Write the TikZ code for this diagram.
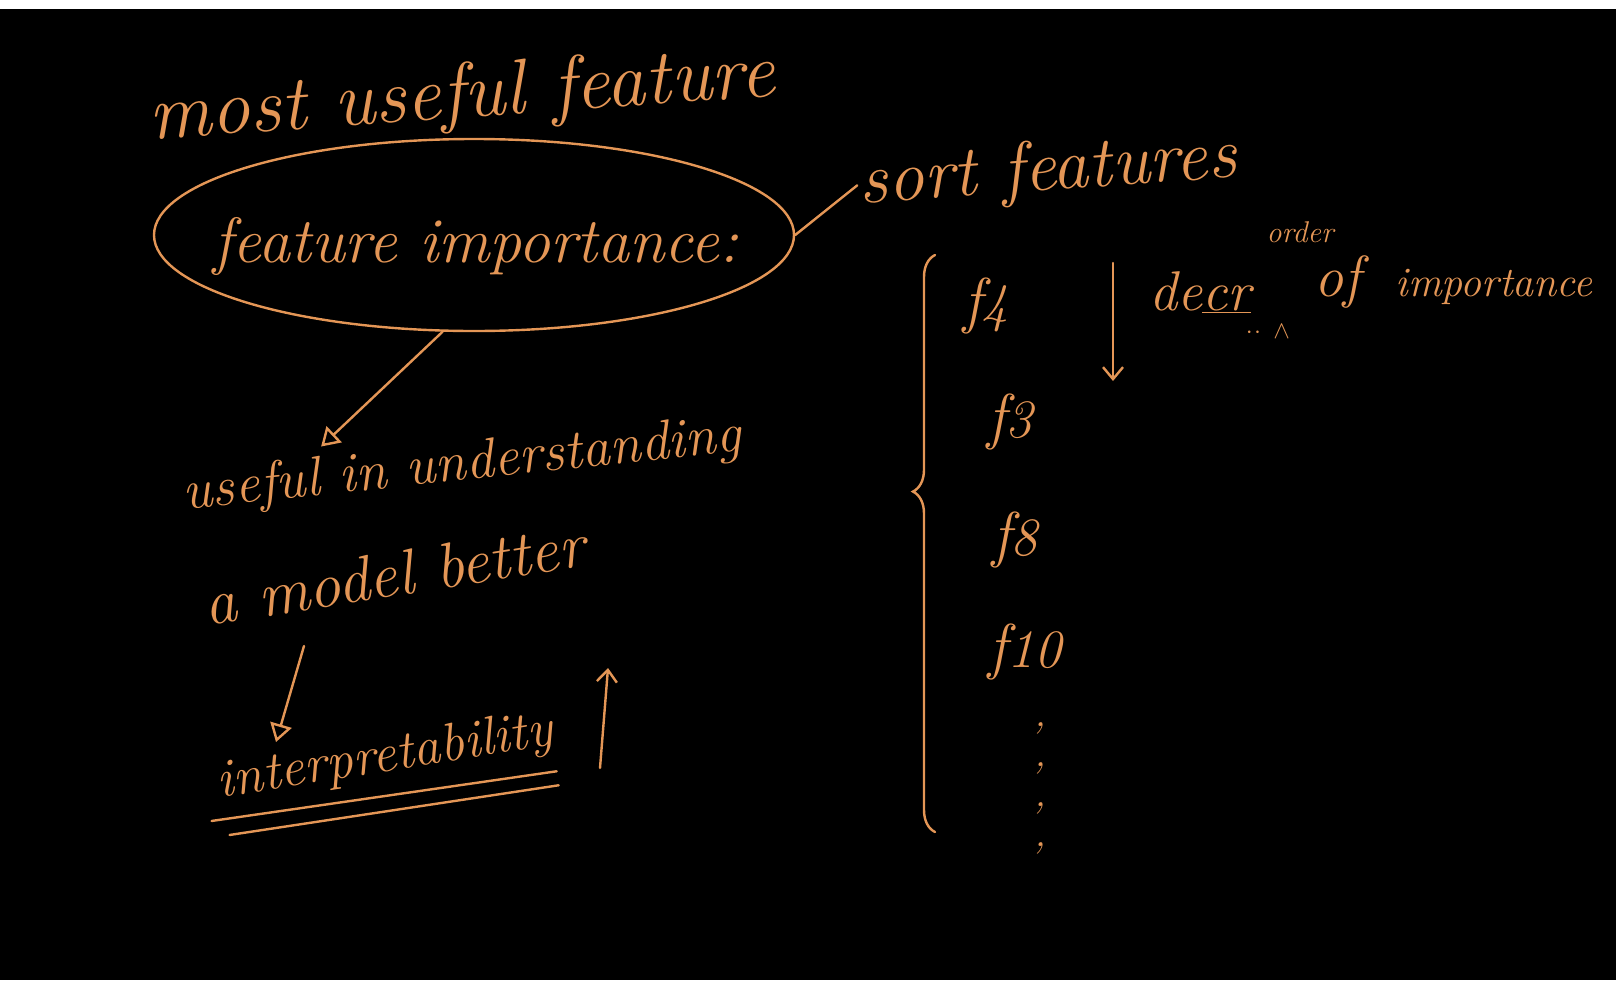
\documentclass[tikz,border=0pt]{standalone}
\usetikzlibrary{arrows.meta,shapes.geometric,decorations.pathreplacing}
\definecolor{chalk}{RGB}{228,150,86}
\newcommand\hsz[1]{\fontsize{#1}{#1}\selectfont\itshape}
\tikzset{
  hand/.style={text=chalk, inner sep=2pt},
  pen/.style={draw=chalk, line width=2.4pt, line cap=round},
  arr/.style={pen, -{Triangle[open,length=18pt,width=22pt]}},
  barb/.style={pen, -{Straight Barb[length=12pt,width=20pt]}}
}
\begin{document}
\begin{tikzpicture}[x=1pt,y=-1pt]
    \fill[white] (0,0) rectangle (1616,9);
    \fill[black] (0,9) rectangle (1616,980);
    \useasboundingbox (0,0) rectangle (1616,980);

    \node[hand,rotate=4] (most) at (462,98) {\hsz{78}most useful feature};
    \node[hand,ellipse,pen,minimum width=640pt,minimum height=192pt,inner sep=0pt] (imp) at (474,235) {};
    \node[hand] (impt) at (476,246) {\hsz{64}feature importance:};
    \node[hand,rotate=4] (sort) at (1048,172) {\hsz{72}sort features};
    \draw[pen] (imp.east) -- (sort.west);

    \node[hand] (f4) at (986,306) {\hsz{62}f{\hsz{54}4}};
    \node[hand] (f3) at (1010,422) {\hsz{62}f{\hsz{54}3}};
    \node[hand] (f8) at (1015,540) {\hsz{62}f{\hsz{54}8}};
    \node[hand] (f10) at (1025,652) {\hsz{62}f{\hsz{54}10}};
    \node[hand,align=center,font=\hsz{40}] (dots) at (1040,788) {,\\,\\,\\,};
    \coordinate (btop) at (935,255);
    \coordinate (bbot) at (935,832);
    \draw[pen,decorate,decoration={brace,amplitude=22pt,aspect=0.59}] (bbot) -- (btop);

    \coordinate (dtop) at (1113,263);
    \coordinate (dbot) at (1113,381);
    \draw[barb] (dtop) -- (dbot);
    \node[hand] (decr) at (1200,292) {\hsz{56}de\underline{cr}};
    \node[hand] (ins) at (1268,332) {\hsz{30}$\cdot\!\cdot\;\wedge$};
    \node[hand] (order) at (1300,232) {\hsz{30}order};
    \node[hand] (of) at (1338,282) {\hsz{58}of};
    \node[hand] (imptc) at (1494,287) {\hsz{42}importance};

    \node[hand,rotate=6] (useful) at (462,466) {\hsz{56}useful in understanding};
    \node[hand,rotate=9] (model) at (394,574) {\hsz{64}a model better};
    \draw[arr] (imp.252) -- ([xshift=-138pt,yshift=-8pt]useful.north);
    \draw[arr] ([shift={(-90,72)}]model.center) -- (276,742);

    \node[hand,rotate=9] (interp) at (385,758) {\hsz{54}interpretability};
    \coordinate (ubot) at (600,768);
    \coordinate (utop) at (608,668);
    \draw[barb] (ubot) -- (utop);
    \draw[pen] ([xshift=-8pt,yshift=-10pt]interp.south west) -- ([xshift=-2pt,yshift=-14pt]interp.south east);
    \draw[pen] ([xshift=10pt,yshift=-24pt]interp.south west) -- ([xshift=0pt,yshift=-28pt]interp.south east);
\end{tikzpicture}
\end{document}
